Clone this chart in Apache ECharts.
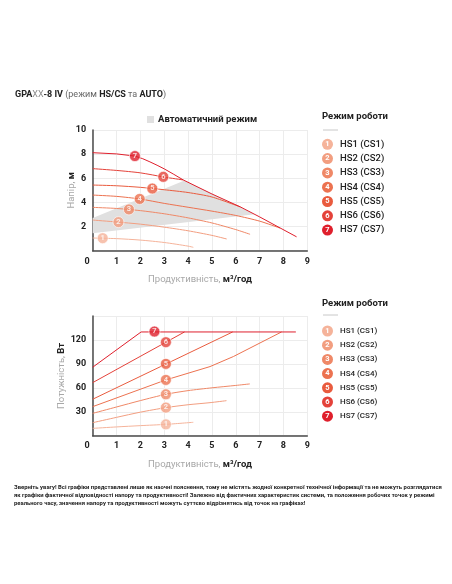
<!DOCTYPE html>
<html><head><meta charset="utf-8">
<script src="https://cdn.jsdelivr.net/npm/echarts@6/dist/echarts.min.js"></script>
<style>html,body{margin:0;padding:0;background:#fff}#c{width:452px;height:584px}</style>
</head><body><div id="c"></div>
<script>
// ---------- data ----------
const modes = ['HS1 (CS1)','HS2 (CS2)','HS3 (CS3)','HS4 (CS4)','HS5 (CS5)','HS6 (CS6)','HS7 (CS7)'];
const modeColors = ['#f5b39a','#f29e80','#ef8867','#ec7250','#e95b3e','#e4423a','#df1f2c'];
const flowTicks = [0,1,2,3,4,5,6,7,8,9];
const headTicks = [0,2,4,6,8,10];
const powerTicks = [0,30,60,90,120,150];

const headHS1 = [[0,1.05],[1,1.0],[2,0.88],[3,0.68],[4,0.38],[4.22,0.28]];
const headHS2 = [[0,2.54],[1,2.38],[2,2.2],[3,1.95],[4,1.65],[5,1.27],[5.62,0.97]];
const headHS3 = [[0,3.59],[1,3.5],[2,3.32],[3,3.06],[4,2.72],[5,2.3],[6,1.75],[6.6,1.36]];
const headHS4 = [[0,4.61],[1,4.5],[2,4.28],[3,3.92],[4,3.6],[5,3.28],[6,2.92],[7,2.45],[7.86,1.87]];
const headHS5 = [[0,5.44],[1,5.38],[2,5.25],[3,5.05],[4,4.82],[5,4.45],[6.2,3.62]];
const headHS6 = [[0,6.8],[1,6.65],[2,6.45],[3,6.1],[3.8,5.86]];
const headHS7 = [[0,8.12],[1,8.02],[1.77,7.84],[2.1,7.62],[2.4,7.36],[2.7,7.08],[3.0,6.78],[3.4,6.33],[3.8,5.86],[5,4.7],[6.2,3.62],[7,2.8],[8.55,1.15]];
const autoZone = [[0,2.7],[3.85,5.82],[6.8,3.02],[0,1.45]];
const headMarkers = [[0.42,1.04,1],[1.08,2.37,2],[1.52,3.42,3],[1.97,4.29,4],[2.5,5.15,5],[2.96,6.12,6],[1.77,7.84,7]];

const powHS1 = [[0,9.2],[1,11],[2,12.6],[3.07,14.2],[4.22,16.8]];
const powHS2 = [[0,16.3],[1,23],[2,29.5],[3.07,35.2],[4,38.8],[4.92,41.4],[5.61,43.9]];
const powHS3 = [[0,28],[1,36],[2,44],[3.07,51.9],[4,56.5],[5,60],[6,63],[6.59,64.9]];
const powHS4 = [[0,36.4],[3.07,69.9],[4.92,86.6],[5.9,99.2],[7.92,130]];
const powHS5 = [[0,45.7],[5.87,130]];
const powHS6 = [[0,66.5],[3.85,130]];
const powHS7 = [[0,85.8],[2.03,130],[8.52,130]];
const powerMarkers = [[3.07,14.2,1],[3.07,35.2,2],[3.07,51.9,3],[3.07,69.9,4],[3.07,90,5],[3.07,117.2,6],[2.59,130.5,7]];

const headCurves = [headHS1,headHS2,headHS3,headHS4,headHS5,headHS6,headHS7];
const powerCurves = [powHS1,powHS2,powHS3,powHS4,powHS5,powHS6,powHS7];

// ---------- chart ----------
const FONT = 'Roboto';
const dark = '#222';
const chart = echarts.init(document.getElementById('c'), null, {renderer:'canvas'});

const nameRich = {g:{color:'#a8a8a8',fontSize:9.5,fontWeight:'normal',fontFamily:FONT},b:{color:dark,fontSize:9.5,fontWeight:'bold',fontFamily:FONT}};

function xAxis(gridIndex, margin){
  return {
    type:'value', gridIndex, min:flowTicks[0], max:flowTicks[flowTicks.length-1], interval:flowTicks[1]-flowTicks[0],
    name:'{g|Продуктивність, }{b|м³/год}', nameLocation:'middle', nameGap:24, nameMoveOverlap:false,
    nameTextStyle:{rich:nameRich},
    axisLine:{show:true,onZero:false,lineStyle:{color:'#4a4a4a',width:1.5}},
    axisTick:{show:false},
    splitLine:{show:true,lineStyle:{color:'#ececec',width:1}},
    axisLabel:{margin, color:dark, fontSize:9, fontWeight:'bold', fontFamily:FONT,
      formatter:v => v===0 ? '{z|0}' : String(v),
      rich:{z:{padding:[0,11,0,0],color:dark,fontSize:9,fontWeight:'bold',fontFamily:FONT}}}
  };
}
function yAxis(gridIndex, ticks, name, gap, showMax){
  return {
    type:'value', gridIndex, min:ticks[0], max:ticks[ticks.length-1], interval:ticks[1]-ticks[0],
    name, nameLocation:'middle', nameGap:gap, nameMoveOverlap:false,
    nameTextStyle:{rich:nameRich},
    axisLine:{show:true,onZero:false,lineStyle:{color:'#4a4a4a',width:1.5}},
    axisTick:{show:false},
    splitLine:{show:true,lineStyle:{color:'#ececec',width:1}},
    axisLabel:{margin:6.5, color:dark, fontSize:9, fontWeight:'bold', fontFamily:FONT, showMinLabel:false, showMaxLabel:showMax}
  };
}

const series = [];
series.push({
  name:'Автоматичний режим', type:'custom', xAxisIndex:0, yAxisIndex:0, z:1,
  data:autoZone, itemStyle:{color:'#e0e0e0'}, silent:true,
  renderItem:(params, api) => {
    if (params.dataIndex !== 0) return null;
    const pts = autoZone.map(p => api.coord(p));
    return {type:'polygon', shape:{points:pts}, style:{fill:'#e0e0e0'}};
  }
});
headCurves.forEach((d,i) => series.push({
  name:modes[i], type:'line', xAxisIndex:0, yAxisIndex:0, data:d, showSymbol:false, symbol:'none',
  smooth:(i===6?false:0.25), z:3, lineStyle:{color:modeColors[i],width:1}, itemStyle:{color:modeColors[i]}, silent:true
}));
powerCurves.forEach((d,i) => series.push({
  name:modes[i], type:'line', xAxisIndex:1, yAxisIndex:1, data:d, showSymbol:false, symbol:'none',
  smooth:(i<3?0.25:false), z:3, lineStyle:{color:modeColors[i],width:1}, itemStyle:{color:modeColors[i]}, silent:true
}));
function markerSeries(xi, data){
  return {
    type:'scatter', xAxisIndex:xi, yAxisIndex:xi, data, symbolSize:11, z:5,
    itemStyle:{color:p => modeColors[p.value[2]-1], borderColor:'#fff', borderWidth:0.8},
    label:{show:true, position:'inside', formatter:p => String(p.value[2]), color:'#fff', fontSize:7.5, fontWeight:'bold', fontFamily:FONT},
    emphasis:{disabled:true}, silent:true
  };
}
series.push(markerSeries(0, headMarkers));
series.push(markerSeries(1, powerMarkers));

function modeLegend(top, gap, fs){
  const rich = {t:{padding:[0,0,0,7],fontSize:fs,color:dark,fontWeight:500,fontFamily:FONT,lineHeight:11}};
  modeColors.forEach((c,i) => rich['c'+i] = {width:11,height:11,lineHeight:11,borderRadius:5.5,backgroundColor:c,align:'center',color:'#fff',fontSize:7.5,fontWeight:'bold',fontFamily:FONT});
  return {
    data:modes, orient:'vertical', left:316, top, padding:0, itemGap:gap, icon:'none', itemWidth:1, itemHeight:11,
    selectedMode:false,
    formatter:name => { const i = modes.indexOf(name); return '{c'+i+'|'+(i+1)+'}{t|'+name+'}'; },
    textStyle:{rich}
  };
}

const footer = [
  'Зверніть увагу! Всі графіки представлені лише як наочні пояснення, тому не містять жодної конкретної технічної інформації та не можуть розглядатися',
  'як графіки фактичної відповідності напору та продуктивності! Залежно від фактичних характеристик системи, та положення робочих точок у режимі',
  'реального часу, значення напору та продуктивності можуть суттєво відрізнятись від точок на графіках!'
];

chart.setOption({
  animation:false,
  backgroundColor:'#fff',
  title:[
    {left:15, top:90, padding:0, text:'{b|GPA}{x|XX}{b|-8 IV }{g|(режим }{b|HS/CS}{g| та }{b|AUTO}{g|)}',
      textStyle:{rich:{b:{fontSize:9,fontWeight:'bold',color:dark,fontFamily:FONT},x:{fontSize:9,fontWeight:'normal',color:'#8a8a8a',fontFamily:FONT},g:{fontSize:9,fontWeight:'normal',color:'#666',fontFamily:FONT}}}},
    {left:322, top:112, padding:0, text:'Режим роботи', textStyle:{fontSize:9.5,fontWeight:'bold',color:dark,fontFamily:FONT}},
    {left:322, top:299, padding:0, text:'Режим роботи', textStyle:{fontSize:9.5,fontWeight:'bold',color:dark,fontFamily:FONT}},
    {left:14, top:483, padding:0, text:footer.join('\n'), textStyle:{fontSize:5.9,fontWeight:'bold',color:dark,fontFamily:FONT,lineHeight:8.2}}
  ],
  graphic:[
    {type:'line', shape:{x1:323,y1:130,x2:338,y2:130}, style:{stroke:'#c8c8c8',lineWidth:1}},
    {type:'line', shape:{x1:323,y1:315,x2:338,y2:315}, style:{stroke:'#c8c8c8',lineWidth:1}}
  ],
  legend:[
    {data:['Автоматичний режим'], left:147, top:114.5, padding:0, icon:'rect', itemWidth:7, itemHeight:7, itemGap:0, selectedMode:false,
      textStyle:{fontSize:9.5,fontWeight:'bold',color:dark,fontFamily:FONT,padding:[0,0,0,-1]}},
    modeLegend(138.8, 3.3, 9.5),
    modeLegend(325.5, 3.2, 8)
  ],
  grid:[
    {left:92.7, top:130, width:214.6, height:120.7},
    {left:92.7, top:316, width:214.6, height:119.7}
  ],
  xAxis:[xAxis(0,7), xAxis(1,6)],
  yAxis:[
    yAxis(0, headTicks, '{g|Напір, }{b|м}', 16, true),
    yAxis(1, powerTicks, '{g|Потужність, }{b|Вт}', 26, false)
  ],
  series
});
</script></body></html>
